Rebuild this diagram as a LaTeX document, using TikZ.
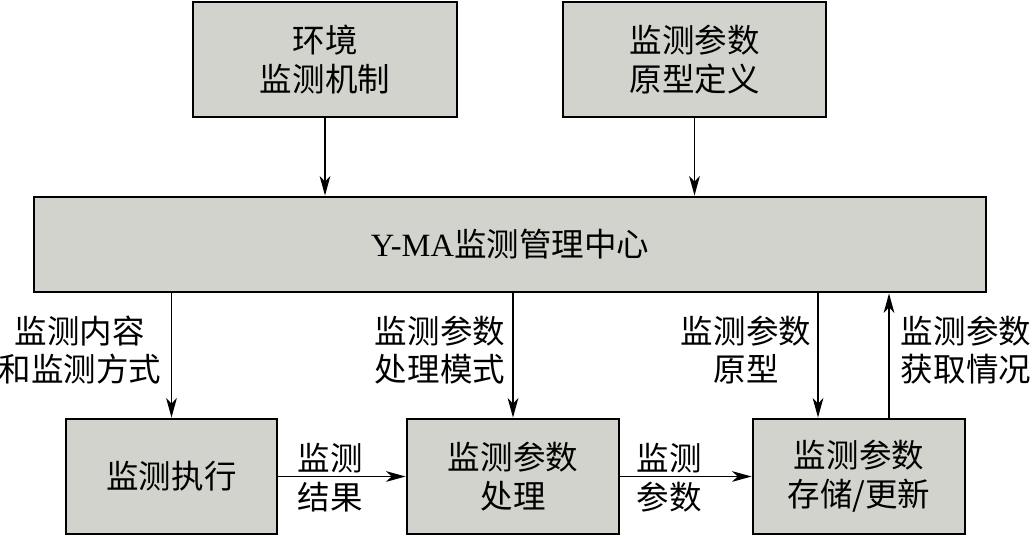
\documentclass[tikz,border=0pt]{standalone}
\usepackage{fontspec}
\setmainfont{Liberation Serif}
\newfontfamily\cjk{Noto Sans CJK SC}
\usetikzlibrary{arrows.meta}
\definecolor{boxgray}{RGB}{211,211,206}
\begin{document}
\begin{tikzpicture}[x=0.02cm, y=-0.02cm, >={Stealth[length=11pt, width=6pt, inset=3pt]},
  blk/.style={draw, line width=1.6pt, fill=boxgray, align=center, inner sep=0pt},
  lbl/.style={align=center, inner sep=0pt},
  every node/.style={font=\cjk\fontsize{18.5}{22}\selectfont},
  line/.style={line width=1.1pt}]
\useasboundingbox (0,0) rectangle (1032,536);

\node[blk, minimum width=264*0.02cm, minimum height=115*0.02cm] (env) at (325,59.5) {环境\\监测机制};
\node[blk, minimum width=263*0.02cm, minimum height=115*0.02cm] (proto) at (694.5,59.5) {监测参数\\原型定义};

\node[blk, minimum width=952*0.02cm, minimum height=95*0.02cm] (center) at (510,244.5) {{\rmfamily Y-MA}监测管理中心};

\node[blk, minimum width=211*0.02cm, minimum height=115*0.02cm] (exec) at (171.5,476.5) {监测执行};
\node[blk, minimum width=212*0.02cm, minimum height=115*0.02cm] (proc) at (513,476.5) {监测参数\\处理};
\node[blk, minimum width=212*0.02cm, minimum height=115*0.02cm] (store) at (859,476.5) {监测参数\\存储/更新};

\coordinate (sdown) at (818,0);
\coordinate (sup) at (889,0);

\draw[line, ->] (env) -- (center.north -| env);
\draw[line, ->] (proto) -- (center.north -| proto);

\draw[line, ->] (center.south -| exec) -- (exec);
\draw[line, ->] (center.south -| proc) -- (proc);
\draw[line, ->] (center.south -| sdown) -- (store.north -| sdown);
\draw[line, ->] (store.north -| sup) -- (center.south -| sup);

\draw[line, ->] (exec) -- (proc);
\draw[line, ->] (proc) -- (store);

\node[lbl] (lcont) at (80,350) {监测内容\\和监测方式};
\node[lbl] (lmode) at (440,350) {监测参数\\处理模式};
\node[lbl] (lproto) at (746,350) {监测参数\\原型};
\node[lbl] (lget) at (966,350) {监测参数\\获取情况};
\node[lbl] (lres) at (330,478) {监测\\结果};
\node[lbl] (lpar) at (669,478) {监测\\参数};
\end{tikzpicture}
\end{document}
